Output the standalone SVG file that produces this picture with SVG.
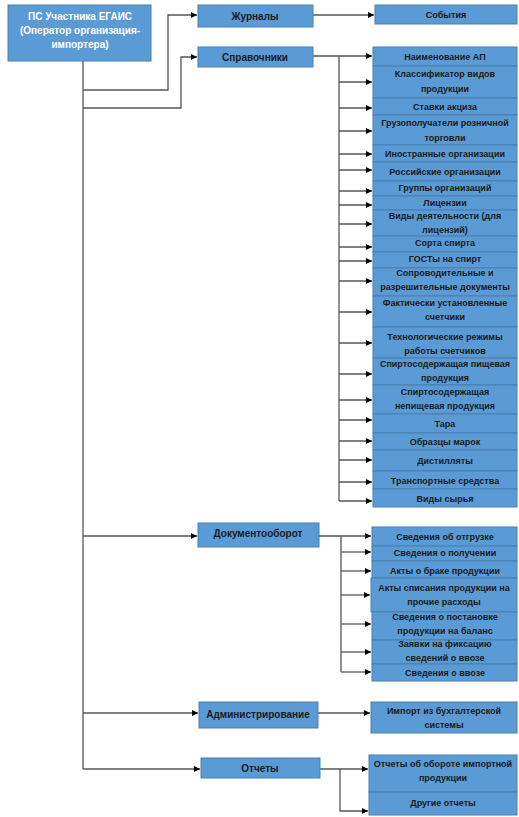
<svg xmlns="http://www.w3.org/2000/svg" width="519" height="817" viewBox="0 0 519 817">
<style>
.b{fill:#5B9BD5;stroke:#4A7EB0;stroke-width:1}
.t{font-family:"Liberation Sans",Arial,sans-serif;font-size:9px;font-weight:bold;fill:#1a1a1a;text-anchor:middle}
.m{font-size:10px}
.w{fill:#ffffff;font-size:10px}
.c{fill:none;stroke:#555555;stroke-width:1.3}
</style>
<defs>
<marker id="a" viewBox="0 0 10 10" refX="10" refY="5" markerWidth="8" markerHeight="6" orient="auto" markerUnits="userSpaceOnUse"><path d="M0,0L10,5L0,10z" fill="#000"/></marker>
</defs>
<rect width="519" height="817" fill="#ffffff"/>
<g id="connectors">
<path class="c" d="M83,61V769"/>
<path class="c" d="M83,90H168V15H197" marker-end="url(#a)"/>
<path class="c" d="M83,108H181V57H197" marker-end="url(#a)"/>
<path class="c" d="M83,536H197" marker-end="url(#a)"/>
<path class="c" d="M83,713H198" marker-end="url(#a)"/>
<path class="c" d="M83,769H200" marker-end="url(#a)"/>
<path class="c" d="M313,15H374" marker-end="url(#a)"/>
<path class="c" d="M339,56V501"/>
<path class="c" d="M313,56H372" marker-end="url(#a)"/>
<path class="c" d="M339,82H372" marker-end="url(#a)"/>
<path class="c" d="M339,108H372" marker-end="url(#a)"/>
<path class="c" d="M339,131H372" marker-end="url(#a)"/>
<path class="c" d="M339,154H372" marker-end="url(#a)"/>
<path class="c" d="M339,170H372" marker-end="url(#a)"/>
<path class="c" d="M339,191H372" marker-end="url(#a)"/>
<path class="c" d="M339,205H372" marker-end="url(#a)"/>
<path class="c" d="M339,224H372" marker-end="url(#a)"/>
<path class="c" d="M339,247H372" marker-end="url(#a)"/>
<path class="c" d="M339,261H372" marker-end="url(#a)"/>
<path class="c" d="M339,281H372" marker-end="url(#a)"/>
<path class="c" d="M339,312H372" marker-end="url(#a)"/>
<path class="c" d="M339,343H372" marker-end="url(#a)"/>
<path class="c" d="M339,374H372" marker-end="url(#a)"/>
<path class="c" d="M339,400H372" marker-end="url(#a)"/>
<path class="c" d="M339,420H372" marker-end="url(#a)"/>
<path class="c" d="M339,441H372" marker-end="url(#a)"/>
<path class="c" d="M339,460H372" marker-end="url(#a)"/>
<path class="c" d="M339,482H372" marker-end="url(#a)"/>
<path class="c" d="M339,501H372" marker-end="url(#a)"/>
<path class="c" d="M341,536V672"/>
<path class="c" d="M319,536H371" marker-end="url(#a)"/>
<path class="c" d="M341,552H371" marker-end="url(#a)"/>
<path class="c" d="M341,571H371" marker-end="url(#a)"/>
<path class="c" d="M341,595H370" marker-end="url(#a)"/>
<path class="c" d="M341,624H371" marker-end="url(#a)"/>
<path class="c" d="M341,652H371" marker-end="url(#a)"/>
<path class="c" d="M341,672H371" marker-end="url(#a)"/>
<path class="c" d="M318,713H370" marker-end="url(#a)"/>
<path class="c" d="M320,769H368" marker-end="url(#a)"/>
<path class="c" d="M340,769V811H368" marker-end="url(#a)"/>
</g>
<g id="root"><rect class="b" x="8" y="5" width="143" height="56"/><text class="t w" x="80" y="20">ПС Участника ЕГАИС</text><text class="t w" x="80" y="34">(Оператор организация-</text><text class="t w" x="80" y="48">импортера)</text></g>
<g id="zhurnaly"><rect class="b" x="198" y="5" width="115" height="22"/><text class="t m" x="255" y="19.5">Журналы</text></g>
<g id="spravochniki"><rect class="b" x="198" y="47" width="115" height="20"/><text class="t m" x="255" y="60.5">Справочники</text></g>
<g id="dokumentooborot"><rect class="b" x="198" y="523" width="121" height="24"/><text class="t m" x="258" y="537">Документооборот</text></g>
<g id="administrirovanie"><rect class="b" x="199" y="702" width="119" height="26"/><text class="t m" x="258" y="718">Администрирование</text></g>
<g id="otchety"><rect class="b" x="201" y="758" width="119" height="20"/><text class="t m" x="260" y="771.5">Отчеты</text></g>
<g id="sobytiya"><rect class="b" x="375" y="5" width="142" height="19"/><text class="t" x="446" y="18">События</text></g>
<g id="n1"><rect class="b" x="373" y="47" width="144" height="19"/><text class="t" x="445" y="59.5">Наименование АП</text></g>
<g id="n2"><rect class="b" x="373" y="66" width="144" height="32"/><text class="t" x="445" y="77">Классификатор видов</text><text class="t" x="445" y="92">продукции</text></g>
<g id="n3"><rect class="b" x="373" y="98" width="144" height="17"/><text class="t" x="445" y="110">Ставки акциза</text></g>
<g id="n4"><rect class="b" x="373" y="115" width="144" height="30"/><text class="t" x="445" y="126">Грузополучатели розничной</text><text class="t" x="445" y="141">торговли</text></g>
<g id="n5"><rect class="b" x="373" y="145" width="144" height="17"/><text class="t" x="445" y="157">Иностранные организации</text></g>
<g id="n6"><rect class="b" x="373" y="162" width="144" height="19"/><text class="t" x="445" y="175">Российские организации</text></g>
<g id="n7"><rect class="b" x="373" y="181" width="144" height="15"/><text class="t" x="445" y="191">Группы организаций</text></g>
<g id="n8"><rect class="b" x="373" y="196" width="144" height="14"/><text class="t" x="445" y="206">Лицензии</text></g>
<g id="n9"><rect class="b" x="373" y="210" width="144" height="26"/><text class="t" x="445" y="219">Виды деятельности (для</text><text class="t" x="445" y="233">лицензий)</text></g>
<g id="n10"><rect class="b" x="373" y="236" width="144" height="16"/><text class="t" x="445" y="246">Сорта спирта</text></g>
<g id="n11"><rect class="b" x="373" y="252" width="144" height="16"/><text class="t" x="445" y="262">ГОСТы на спирт</text></g>
<g id="n12"><rect class="b" x="373" y="268" width="144" height="28"/><text class="t" x="445" y="276">Сопроводительные и</text><text class="t" x="445" y="290">разрешительные документы</text></g>
<g id="n13"><rect class="b" x="373" y="296" width="144" height="31"/><text class="t" x="445" y="306">Фактически установленные</text><text class="t" x="445" y="320">счетчики</text></g>
<g id="n14"><rect class="b" x="373" y="327" width="144" height="31"/><text class="t" x="445" y="340">Технологические режимы</text><text class="t" x="445" y="354">работы счетчиков</text></g>
<g id="n15"><rect class="b" x="373" y="358" width="144" height="27"/><text class="t" x="445" y="367">Спиртосодержащая пищевая</text><text class="t" x="445" y="381">продукция</text></g>
<g id="n16"><rect class="b" x="373" y="385" width="144" height="29"/><text class="t" x="445" y="395">Спиртосодержащая</text><text class="t" x="445" y="409">непищевая продукция</text></g>
<g id="n17"><rect class="b" x="373" y="414" width="144" height="19"/><text class="t" x="445" y="427">Тара</text></g>
<g id="n18"><rect class="b" x="373" y="433" width="144" height="17"/><text class="t" x="445" y="445">Образцы марок</text></g>
<g id="n19"><rect class="b" x="373" y="450" width="144" height="21"/><text class="t" x="445" y="464">Дистилляты</text></g>
<g id="n20"><rect class="b" x="373" y="471" width="144" height="18"/><text class="t" x="445" y="484">Транспортные средства</text></g>
<g id="n21"><rect class="b" x="373" y="489" width="144" height="18"/><text class="t" x="445" y="502">Виды сырья</text></g>
<g id="d1"><rect class="b" x="372" y="527" width="145" height="19"/><text class="t" x="445" y="540">Сведения об отгрузке</text></g>
<g id="d2"><rect class="b" x="372" y="546" width="145" height="15"/><text class="t" x="445" y="556">Сведения о получении</text></g>
<g id="d3"><rect class="b" x="372" y="561" width="145" height="17"/><text class="t" x="445" y="574">Акты о браке продукции</text></g>
<g id="d4"><rect class="b" x="371" y="578" width="146" height="34"/><text class="t" x="444" y="591">Акты списания продукции на</text><text class="t" x="444" y="605">прочие расходы</text></g>
<g id="d5"><rect class="b" x="372" y="612" width="145" height="28"/><text class="t" x="445" y="620">Сведения о постановке</text><text class="t" x="445" y="634">продукции на баланс</text></g>
<g id="d6"><rect class="b" x="372" y="640" width="145" height="24"/><text class="t" x="445" y="647">Заявки на фиксацию</text><text class="t" x="445" y="661">сведений о ввозе</text></g>
<g id="d7"><rect class="b" x="372" y="664" width="145" height="17"/><text class="t" x="445" y="676">Сведения о ввозе</text></g>
<g id="a1"><rect class="b" x="371" y="702" width="146" height="31"/><text class="t" x="444" y="714">Импорт из бухгалтерской</text><text class="t" x="444" y="728">системы</text></g>
<g id="o1"><rect class="b" x="369" y="755" width="148" height="37"/><text class="t" x="443" y="767">Отчеты об обороте импортной</text><text class="t" x="443" y="781">продукции</text></g>
<g id="o2"><rect class="b" x="369" y="792" width="148" height="23"/><text class="t" x="443" y="806">Другие отчеты</text></g>
</svg>
